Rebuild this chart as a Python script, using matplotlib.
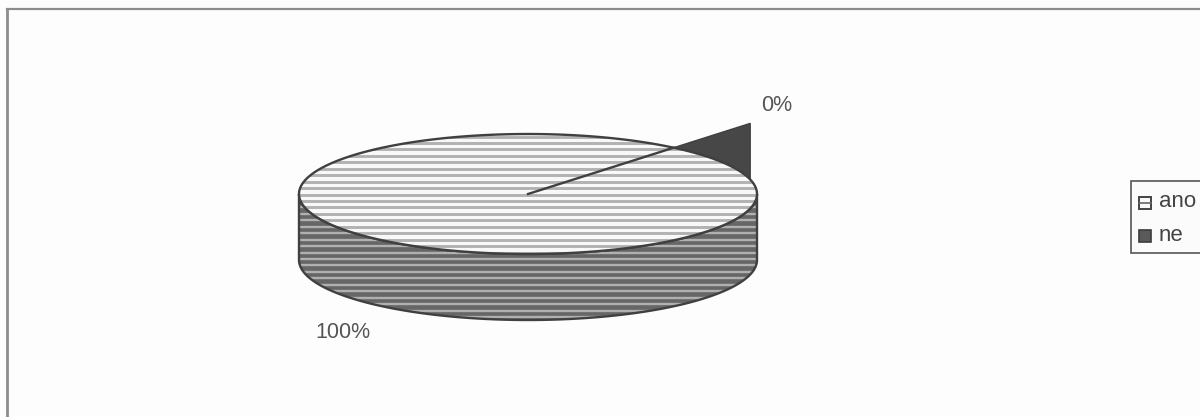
import numpy as np
import matplotlib
matplotlib.use("Agg")
import matplotlib.pyplot as plt
from matplotlib.patches import Polygon, Rectangle

# Survey answers (percent of responses)
categories = ["ano", "ne"]
shares = [99.6, 0.4]
label_text = [f"{round(v)}%" for v in shares]

TOP_FACE = "#f8f8f8"
TOP_STRIPE = "#b2b2b2"
SIDE_FACE = "#666666"
SIDE_STRIPE = "#b0b0b0"
SLICE_DARK = "#474747"
EDGE = "#404040"
TEXT = "#555555"
PAPER = "#fdfdfd"

# Disc geometry in canvas pixels
CX, CY, RX, RY, DEPTH = 528, 194, 229, 60, 66
# The renderer keeps tiny slices visible with a minimum sweep
MIN_SWEEP = 36.5
SLICE_END = 50.5

fig = plt.figure(figsize=(12, 4.17), dpi=100, facecolor=PAPER)
ax = fig.add_axes([0, 0, 1, 1])
ax.set_xlim(0, 1200)
ax.set_ylim(417, 0)
ax.axis("off")


def rim(deg, cy=CY):
    t = np.radians(deg)
    return np.column_stack([CX + RX * np.cos(t), cy - RY * np.sin(t)])


def striped(xy, face, stripe, lw, offset, period=6.45, zorder=2):
    patch = Polygon(xy, closed=True, fc=face, ec="none", zorder=zorder)
    ax.add_patch(patch)
    ys = np.arange(offset, 417, period)
    lines = ax.hlines(ys, 0, 1200, colors=stripe, linewidth=lw, zorder=zorder + 0.1)
    lines.set_clip_path(patch)
    ax.add_patch(Polygon(xy, closed=True, fc="none", ec=EDGE, lw=1.7, zorder=zorder + 0.2))


# Side wall of the disc
front = rim(np.linspace(180, 360, 200))
back = rim(np.linspace(360, 180, 200), CY + DEPTH)
striped(np.vstack([front, back]), SIDE_FACE, SIDE_STRIPE, 1.7, 136.5)

# The "ne" slice pokes out behind the top face
end = np.radians(SLICE_END)
start_deg = SLICE_END - max(MIN_SWEEP, shares[1] * 3.6)
edge_arc = rim(np.linspace(start_deg, SLICE_END, 60))
slope = RY * np.sin(end) / (RX * np.cos(end))
tip_x = edge_arc[0, 0]
tip = [tip_x, CY - slope * (tip_x - CX)]
ax.add_patch(Polygon(np.vstack([edge_arc, [tip]]), closed=True, fc=SLICE_DARK, ec=EDGE, lw=1.0, zorder=1.5))

# Top face with the slice boundary
striped(rim(np.linspace(0, 360, 400)), TOP_FACE, TOP_STRIPE, 2.1, 136.5, zorder=3)
ax.plot([CX, edge_arc[-1, 0]], [CY, edge_arc[-1, 1]], color=EDGE, lw=1.7, zorder=4)

# Percentage labels
ax.text(315, 332, label_text[0], fontsize=15.5, color=TEXT, family="Liberation Sans", va="center", ha="left")
ax.text(761, 105, label_text[1], fontsize=15.5, color=TEXT, family="Liberation Sans", va="center", ha="left")

# Chart frame
ax.plot([7, 7], [417, 9], color="#8c8c8c", lw=2.0, zorder=1)
ax.plot([7, 1200], [9, 9], color="#8c8c8c", lw=1.6, zorder=1)

# Legend
ax.add_patch(Rectangle((1131, 181), 80, 72, fc="#fbfbfb", ec="#555555", lw=1.2, zorder=5))
ax.add_patch(Rectangle((1139, 197), 12, 12, fc=TOP_FACE, ec="#444444", lw=1.4, zorder=6))
ax.plot([1139, 1151], [203, 203], color="#666666", lw=1.2, zorder=6.5)
ax.add_patch(Rectangle((1139, 230), 12, 12, fc="#5a5a5a", ec="#3c3c3c", lw=1.2, zorder=6))
ax.text(1159, 201, categories[0], fontsize=16, color="#444444", family="Liberation Sans", va="center", zorder=7)
ax.text(1159, 235, categories[1], fontsize=16, color="#444444", family="Liberation Sans", va="center", zorder=7)

fig.savefig("out.png", dpi=100, facecolor=PAPER)
